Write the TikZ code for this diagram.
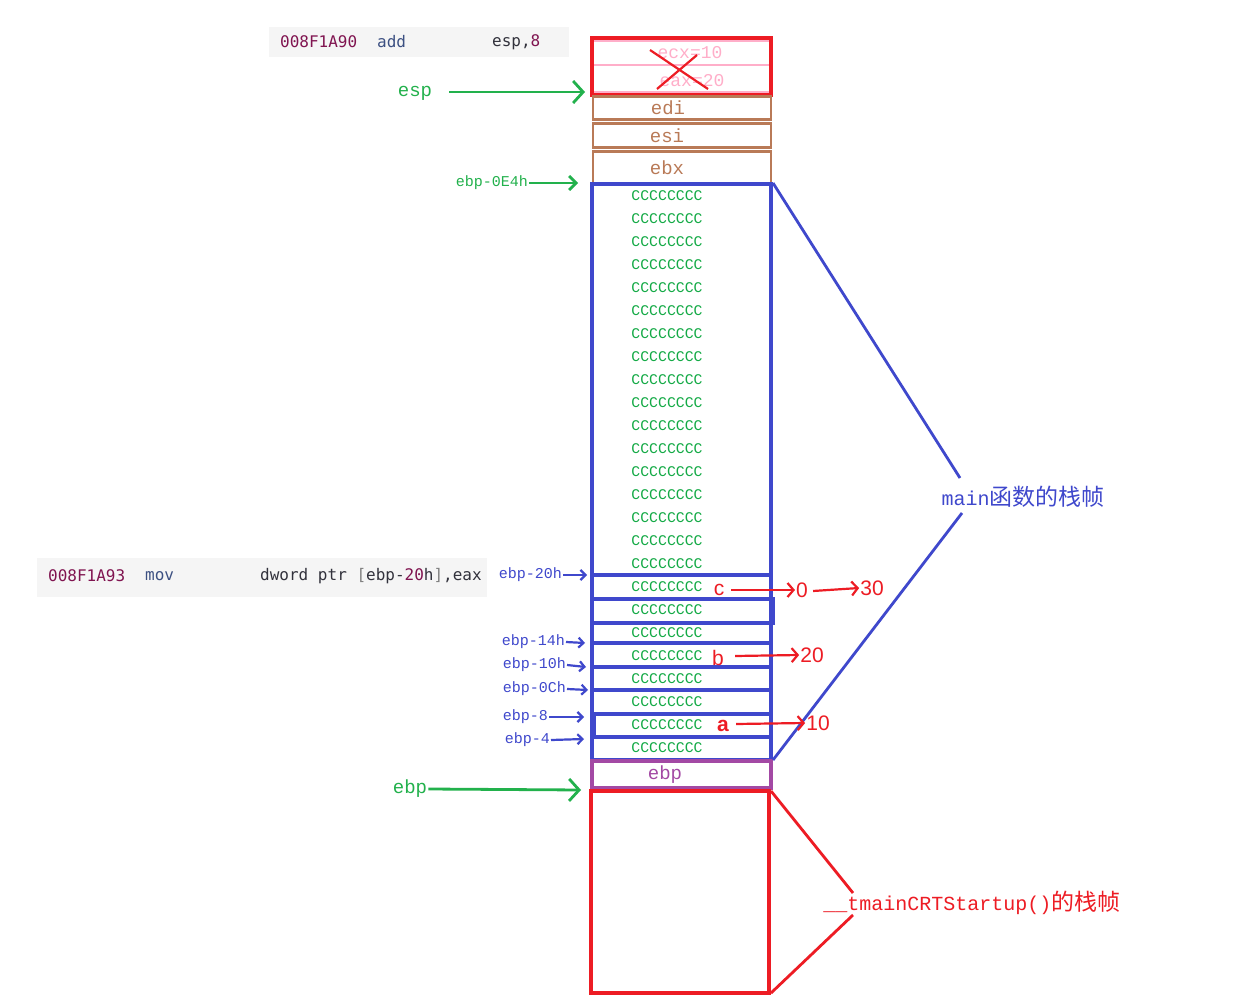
\documentclass[tikz,border=0pt]{standalone}
\usepackage{fontspec}
\setmainfont{Liberation Mono}
\newfontfamily\codefont{DejaVu Sans Mono}
\newfontfamily\cjk[Scale=1.15]{Noto Sans CJK SC}
\newfontfamily\hand{Liberation Sans}
\usetikzlibrary{arrows.meta}
\definecolor{pgreen}{RGB}{34,177,76}
\definecolor{cgreen}{RGB}{20,170,70}
\definecolor{pblue}{RGB}{63,72,204}
\definecolor{pred}{RGB}{237,28,36}
\definecolor{pbrown}{RGB}{185,122,87}
\definecolor{ppurple}{RGB}{163,73,164}
\definecolor{ppink}{RGB}{255,174,201}
\definecolor{codebg}{RGB}{245,245,245}
\definecolor{addr}{RGB}{128,20,80}
\definecolor{mnem}{RGB}{60,80,130}
\definecolor{opnd}{RGB}{50,50,60}
\tikzset{
  cell/.style={text=cgreen,font=\fontsize{14.8}{15}\selectfont,inner sep=0pt},
  reg/.style={font=\fontsize{19}{20}\selectfont,inner sep=0pt},
  code/.style={font=\codefont\fontsize{16}{17}\selectfont,anchor=west,inner sep=0pt},
  blab/.style={text=pblue,font=\fontsize{15}{16}\selectfont,anchor=east,inner sep=1pt},
  barrow/.style={draw=pblue,line width=2.2pt,-{Straight Barb[length=5pt,width=10pt]}},
  garrow/.style={draw=pgreen,line width=2.8pt,-{Straight Barb[length=10pt,width=22pt]}},
  rarrow/.style={draw=pred,line width=2.2pt,-{Straight Barb[length=6pt,width=14pt]}},
  hnote/.style={text=pred,font=\hand\fontsize{21}{21}\selectfont,inner sep=1pt},
  boxline/.style={line width=3.3pt},
  brownline/.style={draw=pbrown,line width=2.6pt},
}
\begin{document}
\begin{tikzpicture}[x=1pt,y=-1pt]
\useasboundingbox[fill=white] (0,0) rectangle (1253,1003);
% code bars
\fill[codebg] (269,27) rectangle (569,57);
\node[code,text=addr] (a1) at (280,42) {008F1A90};
\node[code,text=mnem] (m1) at (377,42) {add};
\node[code,text=opnd] (o1) at (492,42) {esp,\textcolor{addr}{8}};
\fill[codebg] (37,558) rectangle (487,597);
\node[code,text=addr] (a2) at (48,576) {008F1A93};
\node[code,text=mnem] (m2) at (145,576) {mov};
\node[code,text=opnd] (o2) at (260,576) {dword ptr \textcolor{gray}{[}ebp-\textcolor{addr}{20}h\textcolor{gray}{]},eax};
% top red box (popped)
\draw[ppink,line width=2.5pt] (592,41) -- (771,41) (592,65) -- (771,65) (592,92) -- (771,92);
\node[text=ppink,font=\fontsize{18}{18}\selectfont,inner sep=0pt] (ecx) at (690,53) {ecx=10};
\node[text=ppink,font=\fontsize{18}{18}\selectfont,inner sep=0pt] (eax) at (692,81) {eax=20};
\draw[pred,boxline] (592,38) rectangle (771,95);
\draw[pred,line width=2.2pt] (650,50) -- (708,89) (657,89) -- (697,55);
% saved registers
\draw[brownline] (593,96.5) rectangle (771,119.5);
\draw[brownline] (593,123.5) rectangle (771,147.5);
\draw[brownline] (593,151.5) rectangle (771,183);
\node[reg,text=pbrown] (edi) at (668,108) {edi};
\node[reg,text=pbrown] (esi) at (667,136) {esi};
\node[reg,text=pbrown] (ebx) at (667,168) {ebx};
% main frame
\draw[pblue,boxline] (592,184) rectangle (771,760);
\foreach \yy in {575,599,623,643,667,690,714,737}
  \draw[pblue,boxline] (592,\yy) -- (771,\yy);
\draw[pblue,boxline] (592,599) rectangle (773,623);
\draw[pblue,boxline] (594,714) rectangle (771,737);
\foreach \i in {0,...,24}
  \node[cell] (c\i) at (667,{196+23*\i}) {CCCCCCCC};
% ebp
\draw[ppurple,boxline] (592,761) rectangle (771,788);
\node[reg,text=ppurple] (ebp) at (665,775) {ebp};
% caller frame
\draw[pred,boxline] (591,791) rectangle (769,993);
% green pointers
\node[reg,text=pgreen,inner sep=1pt] (lesp) at (415,93) {esp};
\coordinate (tesp) at (585,92);
\draw[garrow] (lesp.east) ++(16,-1) -- (tesp);
\node[text=pgreen,font=\fontsize{15}{16}\selectfont,anchor=east,inner sep=1pt] (le4) at (529,183) {ebp-0E4h};
\coordinate (te4) at (578,183);
\draw[pgreen,line width=2.8pt,-{Straight Barb[length=7pt,width=14pt]}] (le4.east) -- (te4);
\node[reg,text=pgreen,inner sep=1pt] (lebp) at (410,789) {ebp};
\coordinate (tebp) at (581,790);
\draw[garrow] (lebp.east) -- (tebp);
% blue offset labels
\node[blab] (l20) at (563,575) {ebp-20h};
\node[blab] (l14) at (566,642) {ebp-14h};
\node[blab] (l10) at (567,665) {ebp-10h};
\node[blab] (l0c) at (567,689) {ebp-0Ch};
\node[blab] (l8) at (549,717) {ebp-8};
\node[blab] (l4) at (551,740) {ebp-4};
\coordinate (t20) at (587,575);
\coordinate (t14) at (585,643);
\coordinate (t10) at (586,667);
\coordinate (t0c) at (588,690);
\coordinate (t8) at (584,717);
\coordinate (t4) at (584,739);
\draw[barrow] (l20.east) -- (t20);
\draw[barrow] (l14.east) -- (t14);
\draw[barrow] (l10.east) -- (t10);
\draw[barrow] (l0c.east) -- (t0c);
\draw[barrow] (l8.east) -- (t8);
\draw[barrow] (l4.east) -- (t4);
% frame labels
\node[text=pblue,font=\fontsize{20}{20}\selectfont,inner sep=2pt] (mainlab) at (1023,497) {main{\cjk 函数的栈帧}};
\coordinate (mt) at (773,183);
\coordinate (mb) at (773,760);
\draw[pblue,line width=2.8pt] (mt) -- (960,478);
\draw[pblue,line width=2.8pt] (962,513) -- (mb);
\node[text=pred,font=\fontsize{20}{20}\selectfont,inner sep=2pt] (crtlab) at (972,903) {\_\_tmainCRTStartup(){\cjk 的栈帧}};
\coordinate (rt) at (771,791);
\coordinate (rb) at (771,993);
\draw[pred,line width=2.8pt] (rt) -- (853,893);
\draw[pred,line width=2.8pt] (853,915) -- (rb);
% handwritten values
\node[hnote] (vc) at (719,590) {c};
\node[hnote] (v0) at (802,590) {0};
\node[hnote] (v30) at (872,588) {30};
\draw[rarrow] (vc.east) ++(6,0) -- (v0.west);
\draw[rarrow] (v0.east) ++(4,1) -- (v30.west);
\node[hnote] (vb) at (718,658) {b};
\node[hnote] (v20) at (812,655) {20};
\draw[rarrow] (vb.east) ++(10,-2) -- (v20.west);
\node[hnote,font=\hand\bfseries\fontsize{21}{21}\selectfont] (va) at (723,726) {a};
\node[hnote] (v10) at (818,723) {10};
\draw[rarrow] (va.east) ++(6,-2) -- (v10.west);
\end{tikzpicture}
\end{document}
